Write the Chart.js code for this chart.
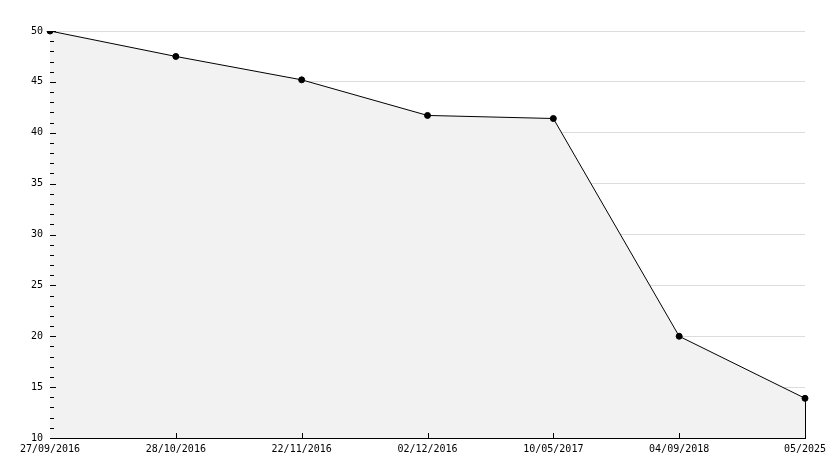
<!DOCTYPE html>
<html>
<head>
<meta charset="utf-8">
<script src="https://cdn.jsdelivr.net/npm/chart.js@4"></script>
<style>
html,body{margin:0;padding:0;background:#fff;}
canvas{display:block;}
</style>
</head>
<body>
<canvas id="c" width="834" height="468"></canvas>
<script>
const categories = ['27/09/2016','28/10/2016','22/11/2016','02/12/2016','10/05/2017','04/09/2018','05/2025'];
const values = [50, 47.5, 45.2, 41.7, 41.4, 20.0, 13.9];
const yMin = 10, yMax = 50, yStep = 1, yLabelEvery = 5;

const FONT = {family: '"DejaVu Sans Mono", monospace', size: 10};

const tickPlugin = {
  id: 'ticks',
  afterDraw(chart) {
    const ctx = chart.ctx;
    const ys = chart.scales.y, xs = chart.scales.x;
    const area = chart.chartArea;
    ctx.save();
    ctx.strokeStyle = '#000';
    ctx.lineWidth = 1;
    ctx.beginPath();
    ys.ticks.forEach(t => {
      const py = Math.round(ys.getPixelForValue(t.value)) + 0.5;
      const len = (t.value % yLabelEvery === 0) ? 6 : 4;
      ctx.moveTo(area.left, py);
      ctx.lineTo(area.left + len, py);
    });
    categories.forEach((c, i) => {
      if (i === 0) return;
      const px = Math.round(xs.getPixelForValue(i)) + 0.5;
      ctx.moveTo(px, area.bottom);
      ctx.lineTo(px, area.bottom - 5);
    });
    const last = chart.getDatasetMeta(0).data[values.length - 1];
    const lx = Math.round(last.x) + 0.5;
    ctx.moveTo(lx, last.y);
    ctx.lineTo(lx, area.bottom);
    ctx.stroke();
    ctx.restore();
  }
};

new Chart(document.getElementById('c'), {
  type: 'line',
  data: {
    labels: categories,
    datasets: [{
      data: values,
      borderColor: '#000',
      borderWidth: 1,
      backgroundColor: '#f2f2f2',
      fill: 'start',
      tension: 0,
      pointRadius: 3,
      pointBackgroundColor: '#000',
      pointBorderColor: '#000',
      pointBorderWidth: 1
    }]
  },
  options: {
    responsive: false,
    devicePixelRatio: 1,
    animation: false,
    events: [],
    layout: {padding: {top: 31, right: 29, bottom: 0, left: 0}},
    plugins: {legend: {display: false}, tooltip: {enabled: false}},
    scales: {
      x: {
        type: 'category',
        offset: false,
        grid: {display: true, color: 'transparent', drawTicks: false},
        border: {display: true, color: '#000', width: 1},
        ticks: {color: '#000', font: FONT, padding: 5, maxRotation: 0, autoSkip: false},
        afterFit(s) { s.height = 30; }
      },
      y: {
        min: yMin,
        max: yMax,
        grid: {
          color: c => (c.tick && c.tick.value % yLabelEvery === 0 && c.tick.value !== yMin) ? '#dcdcdc' : 'transparent',
          tickColor: 'transparent',
          tickLength: 7,
          lineWidth: 1
        },
        border: {display: true, color: '#000', width: 1},
        ticks: {
          stepSize: yStep,
          autoSkip: false,
          color: '#000',
          font: FONT,
          padding: 0,
          callback: v => (v % yLabelEvery === 0 ? String(v) : '')
        },
        afterFit(s) { s.width = 50; }
      }
    }
  },
  plugins: [tickPlugin]
});
</script>
</body>
</html>
